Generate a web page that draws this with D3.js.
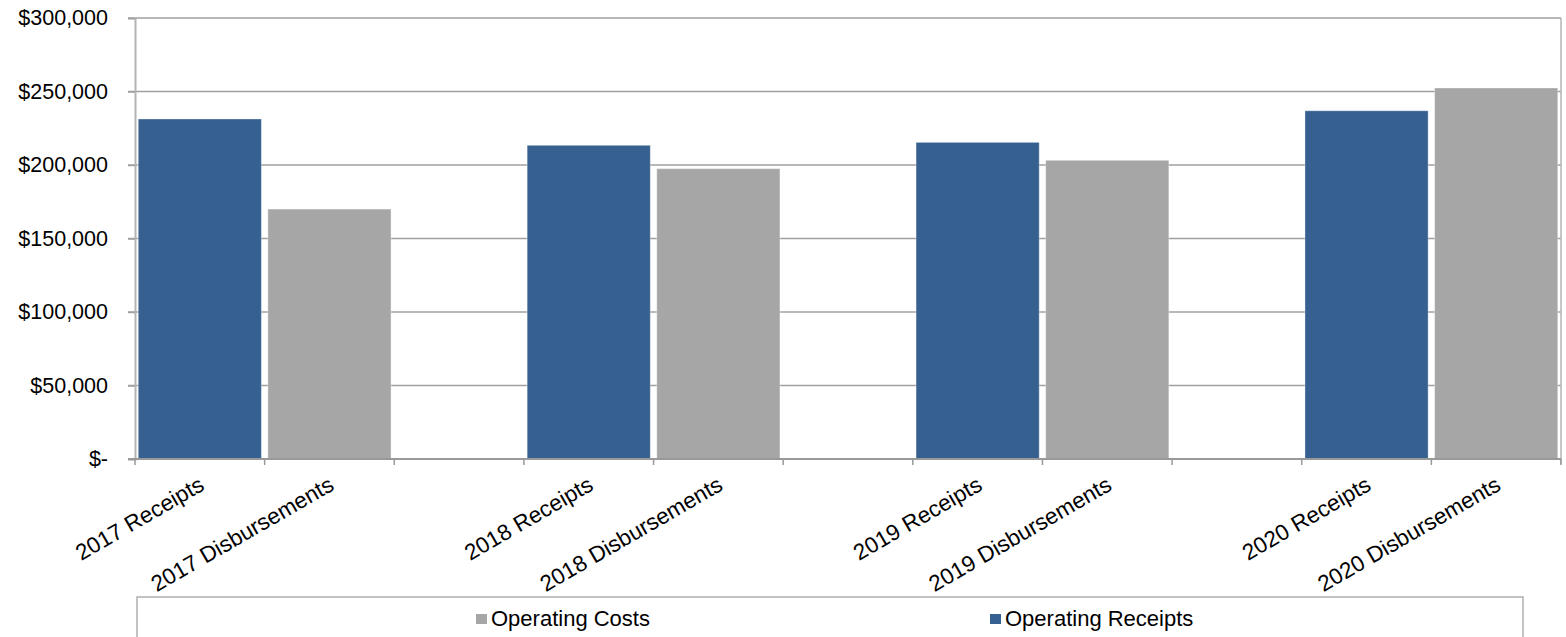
<!DOCTYPE html>
<html>
<head>
<meta charset="utf-8">
<script src="https://cdn.jsdelivr.net/npm/d3@7"></script>
<style>
  html, body { margin: 0; padding: 0; background: #fff; }
  svg { display: block; font-family: "Liberation Sans", Arial, sans-serif; }
</style>
</head>
<body>
<svg id="chart" width="1566" height="637"></svg>
<script>
const categories = ["2017 Receipts", "2017 Disbursements", "gap1",
                    "2018 Receipts", "2018 Disbursements", "gap2",
                    "2019 Receipts", "2019 Disbursements", "gap3",
                    "2020 Receipts", "2020 Disbursements"];
const categoryLabels = ["2017 Receipts", "2017 Disbursements", "",
                        "2018 Receipts", "2018 Disbursements", "",
                        "2019 Receipts", "2019 Disbursements", "",
                        "2020 Receipts", "2020 Disbursements"];
const operatingReceipts = [231300, null, null, 213400, null, null, 215400, null, null, 236900, null];
const operatingCosts    = [null, 170000, null, null, 197500, null, null, 203200, null, null, 252400];
const yTicks = [0, 50000, 100000, 150000, 200000, 250000, 300000];
const seriesNames = ["Operating Costs", "Operating Receipts"];

const colors = { "Operating Receipts": "#36608f", "Operating Costs": "#a6a6a6" };

const svg = d3.select("#chart");
const pL = 135, pT = 18, pR = 1561, pB = 459;

const x = d3.scaleBand().domain(categories).range([pL, pR]).paddingInner(0.05).paddingOuter(0.025);
const xEdge = d3.scaleBand().domain(categories).range([pL, pR]).padding(0);
const y = d3.scaleLinear().domain([0, 300000]).range([pB, pT]);

// gridlines
svg.append("g").selectAll("line").data(yTicks.filter(d => d > 0)).join("line")
  .attr("x1", pL - 7).attr("x2", pR)
  .attr("y1", d => y(d)).attr("y2", d => y(d))
  .attr("stroke", "#a0a0a0").attr("stroke-width", 1.5);

// right border
svg.append("line").attr("x1", pR).attr("x2", pR).attr("y1", pT).attr("y2", pB + 5)
  .attr("stroke", "#b4b4b4").attr("stroke-width", 1.5);

// bars
const barData = [];
categories.forEach((c, i) => {
  if (operatingReceipts[i] != null) barData.push({ c, v: operatingReceipts[i], s: "Operating Receipts" });
  if (operatingCosts[i] != null) barData.push({ c, v: operatingCosts[i], s: "Operating Costs" });
});
svg.append("g").selectAll("rect").data(barData).join("rect")
  .attr("x", d => x(d.c)).attr("width", x.bandwidth())
  .attr("y", d => y(d.v)).attr("height", d => y(0) - y(d.v))
  .attr("fill", d => colors[d.s])
  .attr("stroke", "rgba(255,255,255,0.35)").attr("stroke-width", 1);

// y axis
const yAxis = d3.axisLeft(y).tickValues(yTicks).tickSize(7).tickPadding(20)
  .tickFormat(d => d === 0 ? "$-" : "$" + d3.format(",")(d));
const gy = svg.append("g").attr("transform", `translate(${pL},0)`).call(yAxis);
gy.select(".domain").attr("stroke", "#b4b4b4").attr("stroke-width", 2);
gy.selectAll(".tick line").attr("stroke", "#a0a0a0").attr("stroke-width", 1.5);
gy.selectAll(".tick text").attr("font-size", 21.5).attr("fill", "#000")
  .attr("font-family", "Liberation Sans, Arial, sans-serif");

// x axis baseline
svg.append("line").attr("x1", pL - 7).attr("x2", pR).attr("y1", pB).attr("y2", pB)
  .attr("stroke", "#999").attr("stroke-width", 2);
// x tick marks at category edges
const edges = categories.map(c => xEdge(c)).concat([pR]);
svg.append("g").selectAll("line").data(edges).join("line")
  .attr("x1", d => d).attr("x2", d => d).attr("y1", pB).attr("y2", pB + 6)
  .attr("stroke", "#999").attr("stroke-width", 1.5);

// x labels
svg.append("g").selectAll("text").data(categories).join("text")
  .attr("transform", c => `translate(${xEdge(c) + xEdge.bandwidth() / 2 + 6},${pB + 30}) rotate(-30)`)
  .attr("text-anchor", "end").attr("font-size", 22.5).attr("fill", "#000")
  .text((c, i) => categoryLabels[i]);

// legend
svg.append("rect").attr("x", 137).attr("y", 597).attr("width", 1386).attr("height", 60)
  .attr("fill", "none").attr("stroke", "#b0b0b0").attr("stroke-width", 1.5);
const legendX = [476, 990];
const lg = svg.append("g").selectAll("g").data(seriesNames).join("g")
  .attr("transform", (d, i) => `translate(${legendX[i]},0)`);
lg.append("rect").attr("x", 0).attr("y", 614).attr("width", 11).attr("height", 10)
  .attr("fill", d => colors[d]);
lg.append("text").attr("x", 15).attr("y", 626).attr("font-size", 22).attr("fill", "#000")
  .text(d => d);
</script>
</body>
</html>
